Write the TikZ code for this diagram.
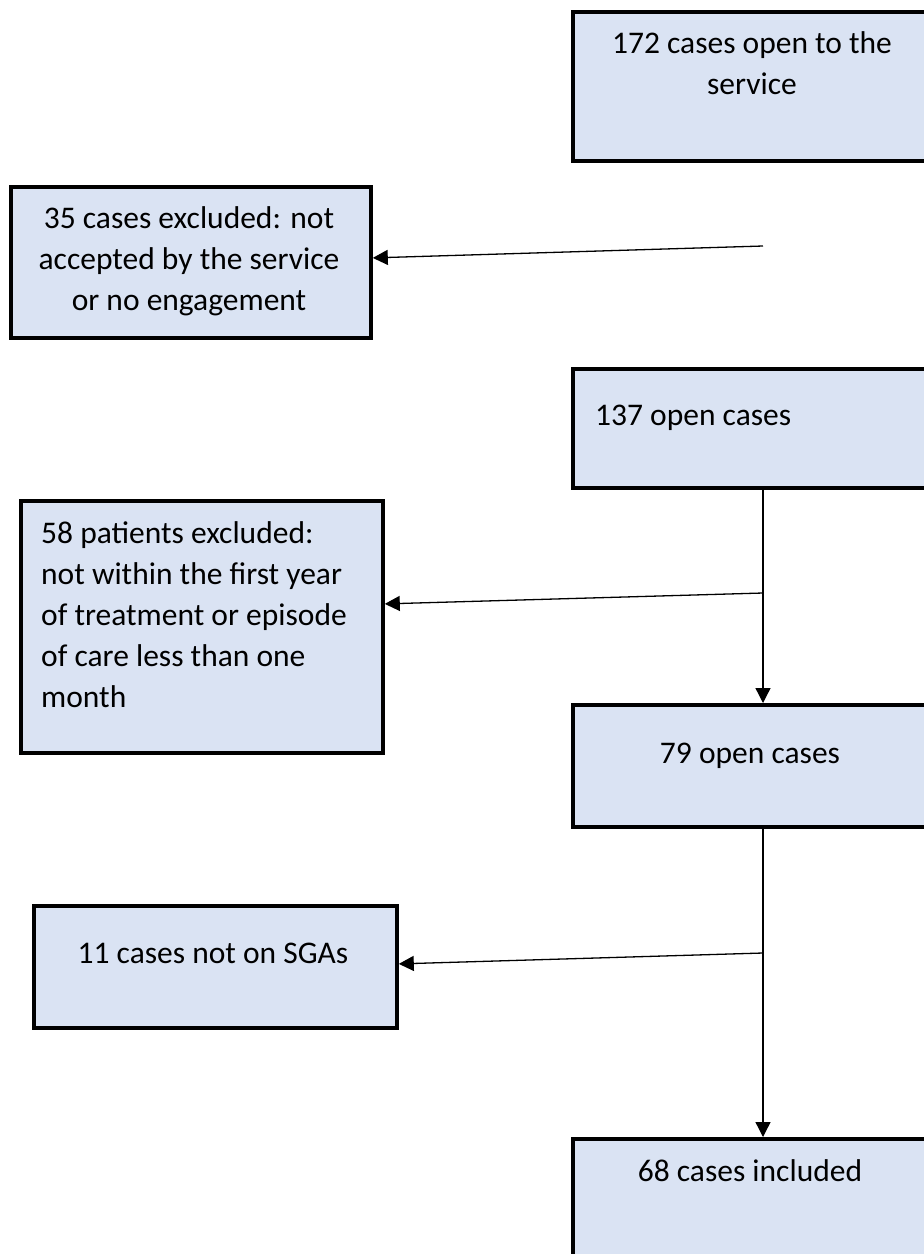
\documentclass[tikz,border=0pt]{standalone}
\usepackage{fontspec}
\setmainfont{Carlito}
\usepackage{xcolor}
\usepackage{tikz}
\usetikzlibrary{arrows.meta,positioning}
\definecolor{boxblue}{HTML}{DAE3F3}

\begin{document}
\begin{tikzpicture}[
  x=1pt, y=-1pt,
  box/.style={draw, line width=3.8pt, fill=boxblue, anchor=north west, inner sep=0pt, minimum width=362pt},
  txt/.style={font=\fontsize{31.5}{41}\selectfont, inner sep=0pt},
  arr/.style={-{Triangle[length=15pt,width=15pt]}, line width=1.3pt}
]
  \useasboundingbox (0,0) rectangle (924,1254);
  \clip (0,0) rectangle (924,1254);
  \node[box, minimum height=149pt] (open) at (571,10) {};
  \node[box, minimum width=360pt, minimum height=151pt] (excl) at (9,185) {};
  \node[box, minimum height=119pt] (open2) at (571,367) {};
  \node[box, minimum height=252pt] (notyear) at (19,499) {};
  \node[box, minimum height=122pt] (open3) at (571,703) {};
  \node[box, minimum width=363pt, minimum height=122pt] (nosga) at (32,904) {};
  \node[box, minimum height=170pt] (incl) at (571,1137) {};
  \node[txt, align=center, anchor=north] (topen) at (752,31) {172 cases open to the\\service};
  \node[txt, align=center, anchor=north] (texcl) at (189,206) {35 cases excluded: not\\accepted by the service\\or no engagement};
  \node[txt, anchor=base west] (topen2) at (595,425) {137 open cases};
  \node[txt, align=left, anchor=north west] (tnotyear) at (41,521) {58 patients excluded:\\not within the first year\\of treatment or episode\\of care less than one\\month};
  \node[txt, anchor=base] (topen3) at (750,763) {79 open cases};
  \node[txt, anchor=base] (tnosga) at (213,963) {11 cases not on SGAs};
  \node[txt, anchor=base] (tincl) at (750,1181) {68 cases included};
  \coordinate (s35) at (763,246);
  \coordinate (j58) at (763,593);
  \coordinate (j11) at (763,953);
  \draw[arr] (s35) -- ([yshift=4.5pt]excl.east);
  \draw[arr] (open2.south -| j58) -- (open3.north -| j58);
  \draw[arr] (j58) -- ([yshift=23pt]notyear.east);
  \draw[arr] (open3.south -| j11) -- (incl.north -| j11);
  \draw[arr] (j11) -- ([yshift=3pt]nosga.east);
\end{tikzpicture}
\end{document}
